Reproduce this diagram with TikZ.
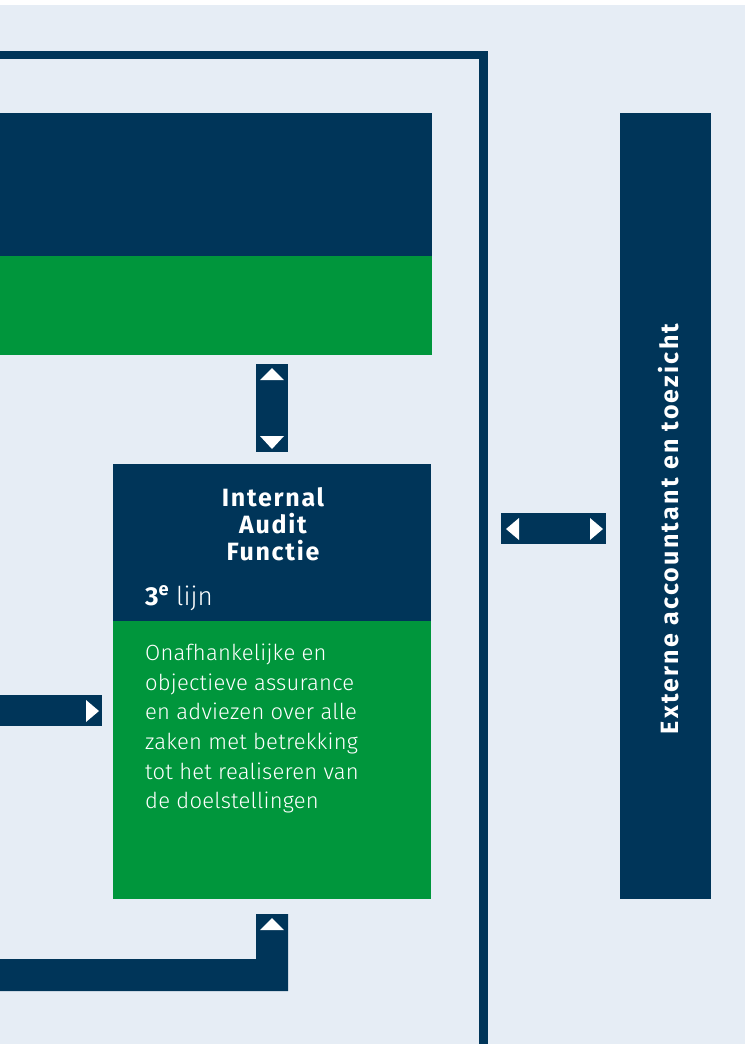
\documentclass[tikz,border=0pt]{standalone}
\usepackage{fontspec}
\setmainfont{Fira Sans}
\newfontfamily\lightfont{Fira Sans Light}[LetterSpace=1]
\newfontfamily\lijnfont{Fira Sans Light}
\newfontfamily\titlefont{Fira Sans}[LetterSpace=7]
\newfontfamily\sidefont{Fira Sans}[LetterSpace=9]
\definecolor{navy}{HTML}{003559}
\definecolor{grn}{HTML}{00963C}
\definecolor{bgblue}{HTML}{E6EDF5}
\begin{document}
\begin{tikzpicture}[x=1pt,y=-1pt,
  blk/.style={inner sep=0pt, outer sep=0pt, anchor=north west, draw=none},
  tri/.style={fill=white, draw=none}]
\useasboundingbox (0,0) rectangle (745,1044);
\fill[white] (0,0) rectangle (745,1044);
\fill[bgblue] (0,5) rectangle (745,1044);
% frame
\fill[navy] (0,51) rectangle (488,59);
\fill[navy] (479,51) rectangle (488,1044);
% top box
\node[blk, fill=navy, minimum width=432pt, minimum height=143pt] (tophead) at (0,113) {};
\node[blk, fill=grn, minimum width=432pt, minimum height=99pt] (topbody) at (0,256) {};
% vertical double arrow
\node[blk, fill=navy, minimum width=32pt, minimum height=88pt] (varrow) at (256,364) {};
\fill[tri] (260,380) -- (272,368) -- (284,380) -- cycle;
\fill[tri] (260,436) -- (272,449) -- (284,436) -- cycle;
% Internal Audit Functie
\node[blk, fill=navy, minimum width=318pt, minimum height=157pt] (iafhead) at (113,464) {};
\node[blk, fill=grn, minimum width=318pt, minimum height=278pt] (iafbody) at (113,621) {};
\node[text=white, align=center, font=\titlefont\bfseries\fontsize{25}{27}\selectfont] (iaftitle) at (273,524) {Internal\\Audit\\Functie};
\node[text=white, anchor=base west, inner sep=0pt, font=\fontsize{26}{28}\selectfont] (lijn) at (145,605) {{\bfseries 3\textsuperscript{e}} {\lijnfont lijn}};
\node[text=white, anchor=north west, inner sep=0pt, align=left, font=\lightfont\fontsize{22}{29.6}\selectfont] (iaftext) at (145,644) {Onafhankelijke en\\objectieve assurance\\en adviezen over alle\\zaken met betrekking\\tot het realiseren van\\de doelstellingen};
% left arrow
\node[blk, fill=navy, minimum width=102pt, minimum height=31pt] (larrow) at (0,695) {};
\fill[tri] (86,700) -- (99,711) -- (86,722) -- cycle;
% bottom L-shaped arrow
\fill[navy] (256,914) -- (288,914) -- (288,991) -- (0,991) -- (0,959) -- (256,959) -- cycle;
\fill[tri] (260,930) -- (272,918) -- (284,930) -- cycle;
% horizontal double arrow
\node[blk, fill=navy, minimum width=105pt, minimum height=31pt] (harrow) at (501,513) {};
\fill[tri] (519,518) -- (506,529) -- (519,540) -- cycle;
\fill[tri] (590,518) -- (603,529) -- (590,540) -- cycle;
% external box
\node[blk, fill=navy, minimum width=91pt, minimum height=786pt] (extern) at (620,113) {};
\node[text=white, rotate=90, anchor=base, inner sep=0pt, font=\sidefont\bfseries\fontsize{25}{25}\selectfont] (externtext) at (678,529) {Externe accountant en toezicht};
\end{tikzpicture}
\end{document}
